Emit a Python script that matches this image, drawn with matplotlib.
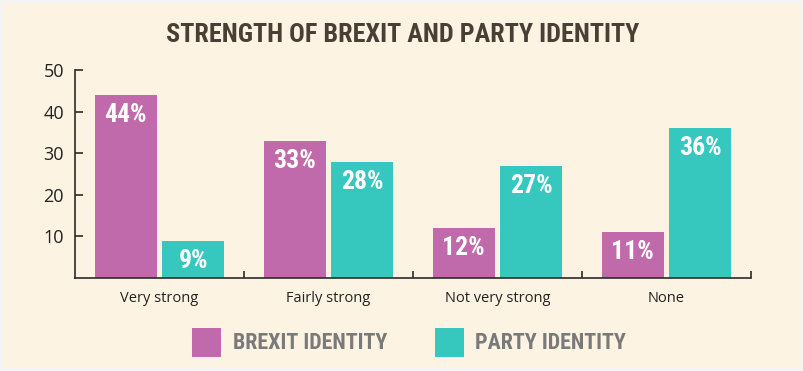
import matplotlib
matplotlib.use("Agg")
import matplotlib.pyplot as plt
from matplotlib import font_manager
from matplotlib.patches import Rectangle

categories = ["Very strong", "Fairly strong", "Not very strong", "None"]
brexit_identity = [44, 33, 12, 11]
party_identity = [9, 28, 27, 36]
series_names = ["BREXIT IDENTITY", "PARTY IDENTITY"]
y_ticks = [10, 20, 30, 40, 50]

available = {f.name for f in font_manager.fontManager.ttflist}
def pick(names):
    for n in names:
        if n in available:
            return n
    return "DejaVu Sans"

cond = pick(["Roboto Condensed", "Liberation Sans Narrow", "DejaVu Sans Condensed", "DejaVu Sans"])
body = pick(["Open Sans", "Noto Sans", "Lato", "DejaVu Sans"])

BG = "#FDF3E3"
PURPLE = "#C06AAB"
TEAL = "#36C7BF"
TITLE_C = "#4A3F35"
AXIS_C = "#2b2b2b"

W, H = 804, 371
fig = plt.figure(figsize=(W / 100, H / 100), dpi=100, facecolor="#f4f4f4")
fig.patches.append(Rectangle((3 / W, 3 / H), 1 - 6 / W, 1 - 6 / H, transform=fig.transFigure,
                             facecolor=BG, edgecolor="none", zorder=-10))

ax = fig.add_axes([75 / W, 1 - 278 / H, (751 - 75) / W, (278 - 70) / H])
ax.set_facecolor("none")

n = len(categories)
centers = [i + 0.5 for i in range(n)]
bw = 0.365
off = 0.2
b1 = ax.bar([c - off for c in centers], brexit_identity, width=bw, color=PURPLE, zorder=2)
b2 = ax.bar([c + off for c in centers], party_identity, width=bw, color=TEAL, zorder=2)

for bars, vals in ((b1, brexit_identity), (b2, party_identity)):
    for r, v in zip(bars, vals):
        ax.annotate(f"{v}%", (r.get_x() + r.get_width() / 2, v), xytext=(0, -14.5),
                    textcoords="offset points", ha="center", va="center",
                    color="white", fontsize=18.5, fontweight="bold", family=cond, zorder=3)

ax.set_xlim(0, n)
ax.set_ylim(0, 50)
ax.set_yticks(y_ticks)
ax.set_yticklabels([str(t) for t in y_ticks], fontsize=13, family=body, color="#222222")
ax.tick_params(axis="y", direction="in", length=6, width=1.2, color=AXIS_C, pad=8)

ax.set_xticks(centers)
ax.set_xticklabels(categories, fontsize=10.5, family=body, color="#222222")
ax.tick_params(axis="x", which="major", length=0, pad=9)
ax.set_xticks(list(range(1, n + 1)), minor=True)
ax.tick_params(axis="x", which="minor", direction="in", length=5, width=1.2, color=AXIS_C)

for s in ("top", "right"):
    ax.spines[s].set_visible(False)
for s in ("left", "bottom"):
    ax.spines[s].set_color(AXIS_C)
    ax.spines[s].set_linewidth(1.2)

fig.text(403 / W, 1 - 35 / H, "STRENGTH OF BREXIT AND PARTY IDENTITY", ha="center", va="center",
         fontsize=18.8, fontweight="bold", family=cond, color=TITLE_C)

# legend
for (x0, col, name, tx) in ((192, PURPLE, series_names[0], 233), (435, TEAL, series_names[1], 475)):
    fig.patches.append(Rectangle((x0 / W, 1 - 357 / H), 29 / W, 29 / H, transform=fig.transFigure,
                                 facecolor=col, edgecolor="none"))
    fig.text(tx / W, 1 - 343 / H, name, ha="left", va="center", fontsize=15.8, fontweight="bold",
             family=cond, color="#7a7a7a")

fig.savefig("out.png", dpi=100, facecolor=fig.get_facecolor())
